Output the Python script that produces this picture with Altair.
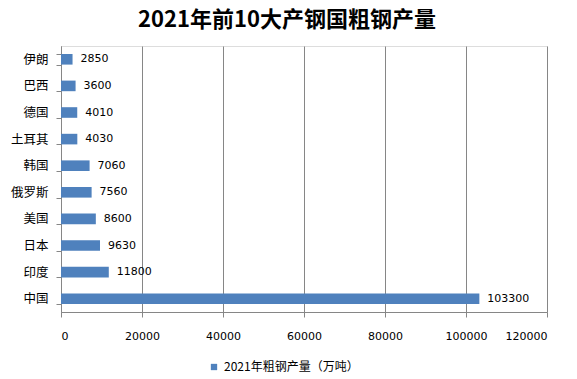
import altair as alt
import pandas as pd

countries = ["伊朗", "巴西", "德国", "土耳其", "韩国", "俄罗斯", "美国", "日本", "印度", "中国"]
values = [2850, 3600, 4010, 4030, 7060, 7560, 8600, 9630, 11800, 103300]
series_name = "2021年粗钢产量（万吨）"
x_ticks = [0, 20000, 40000, 60000, 80000, 100000, 120000]

df = pd.DataFrame({"country": countries, "value": values, "series": [series_name] * len(countries)})

y_enc = alt.Y(
    "country:N",
    sort=countries,
    scale=alt.Scale(paddingInner=0.6, paddingOuter=0.3),
    axis=alt.Axis(
        title=None,
        tickBand="extent",
        labelFont="Noto Sans CJK SC",
        labelFontSize=12.5,
        labelColor="#000000",
        labelPadding=8,
        tickSize=5,
        tickColor="#868686",
        domainColor="#868686",
        grid=False,
    ),
)

x_enc = alt.X(
    "value:Q",
    scale=alt.Scale(domain=[0, 120000], nice=False),
    axis=alt.Axis(
        title=None,
        values=x_ticks,
        format="d",
        labelFont="DejaVu Sans",
        labelFontSize=11,
        labelColor="#000000",
        labelPadding=13,
        tickSize=5,
        tickColor="#868686",
        domainColor="#868686",
        grid=True,
        gridColor="#868686",
        gridWidth=1,
    ),
)

bars = alt.Chart(df).mark_bar(size=10.6).encode(
    x=x_enc,
    y=y_enc,
    color=alt.Color(
        "series:N",
        scale=alt.Scale(range=["#4F81BD"]),
        legend=alt.Legend(
            title=None,
            orient="none",
            legendX=147,
            legendY=315,
            symbolType="square",
            symbolSize=40,
            symbolStrokeWidth=0,
            labelFont="Noto Sans CJK SC",
            labelFontSize=12,
            labelColor="#000000",
        ),
    ),
)

labels = alt.Chart(df).mark_text(
    align="left", baseline="middle", dx=8, font="DejaVu Sans", fontSize=11, color="#000000"
).encode(
    x=alt.X("value:Q"),
    y=alt.Y("country:N", sort=countries),
    text=alt.Text("value:Q", format="d"),
)

chart = (
    alt.layer(bars, labels)
    .properties(
        width=486,
        height=266,
        title=alt.TitleParams(
            "2021年前10大产钢国粗钢产量",
            font="Noto Sans CJK SC",
            fontSize=22,
            fontWeight="bold",
            color="#000000",
            anchor="middle",
            dx=-17,
            offset=8,
        ),
        autosize=alt.AutoSizeParams(type="none"),
        padding={"left": 53, "top": 38, "right": 22, "bottom": 62},
    )
    .configure_view(stroke=None)
    .configure(background="#ffffff")
)

chart.save("out.html", embed_options={"renderer": "svg", "actions": False})
